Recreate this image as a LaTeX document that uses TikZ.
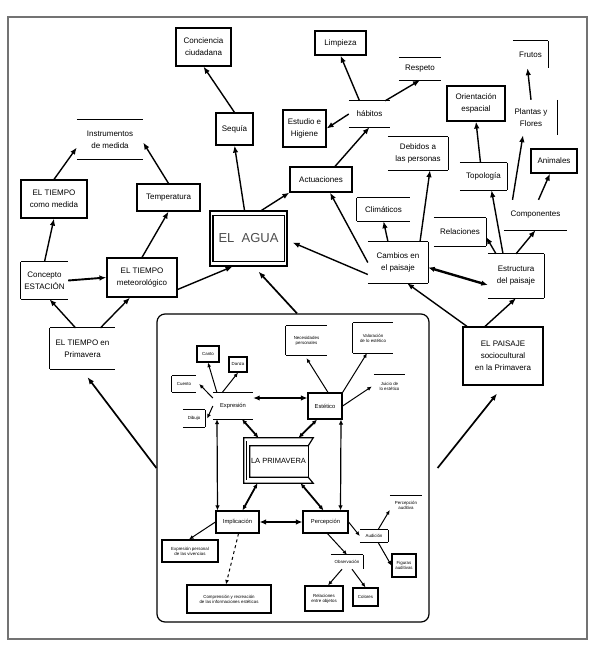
\documentclass[tikz,border=0pt]{standalone}
\usepackage{fontspec}
\setmainfont{Liberation Sans}
\usetikzlibrary{arrows.meta}
\newcommand\sdT[1]{\draw[bord] (#1.north west) -- (#1.north east);}
\newcommand\sdB[1]{\draw[bord] (#1.south west) -- (#1.south east);}
\newcommand\sdL[1]{\draw[bord] (#1.north west) -- (#1.south west);}
\newcommand\sdR[1]{\draw[bord] (#1.north east) -- (#1.south east);}
\begin{document}
\begin{tikzpicture}[x=1pt,y=-1pt,
  bx/.style 2 args={rectangle, inner sep=0pt, minimum width=#1pt, minimum height=#2pt, align=center},
  fb/.style={draw, line width=1.2pt},
  bord/.style={line width=1.2pt},
  lbl/.style={font=\fontsize{8}{12}\selectfont},
  sm/.style={font=\fontsize{5.8}{6.8}\selectfont},
  tn/.style={font=\fontsize{4.4}{5.2}\selectfont},
  arr/.style={line width=1.4pt, -{Latex[length=7pt,width=5.5pt]}},
  thk/.style={line width=2.4pt, {Latex[length=6.5pt,width=5.5pt]}-{Latex[length=6.5pt,width=5.5pt]}},
  sarr/.style={line width=1pt, -{Latex[length=4.5pt,width=4pt]}},
  dbl/.style={line width=1.2pt, {Latex[length=5pt,width=4.5pt]}-{Latex[length=5pt,width=4.5pt]}}
]
\useasboundingbox (0,0) rectangle (597,658);
\draw[black!55, line width=1.2pt] (8,17) rectangle (587,639);

% ---------- outer nodes ----------
\node[bx={55}{38},fb,lbl] (conc) at (203.5,47) {Conciencia\\ciudadana};
\node[bx={37}{32},fb,lbl] (seq) at (234.5,129) {Sequía};
\node[bx={66}{39},lbl] (instr) at (110,139.5) {Instrumentos\\de medida};
\sdT{instr}\sdB{instr}
\node[bx={66}{38},fb,lbl] (tcm) at (54,199) {EL TIEMPO\\como medida};
\node[bx={63}{27},fb,lbl] (temp) at (168.5,197.5) {Temperatura};
\node[bx={77}{55},fb,font=\fontsize{13}{15}\selectfont,text=black!70] (agua) at (248.5,238.5) {EL\ \ AGUA};
\draw[bord] ([xshift=3.5,yshift=-5]agua.north west) rectangle ([xshift=-3.5,yshift=5]agua.south east);
\node[bx={47}{37},lbl] (est) at (44.5,280.5) {Concepto\\ESTACIÓN};
\sdT{est}\sdL{est}\sdB{est}
\node[bx={70}{39},fb,lbl] (met) at (142,277.5) {EL TIEMPO\\meteorológico};
\node[bx={65}{41},lbl] (tprim) at (82.5,348.5) {EL TIEMPO en\\Primavera};
\sdT{tprim}\sdL{tprim}\sdB{tprim}
\node[bx={51}{24},fb,lbl] (limp) at (340.5,43) {Limpieza};
\node[bx={42}{22},lbl] (resp) at (420,69) {Respeto};
\sdT{resp}\sdB{resp}
\node[bx={41}{26},lbl] (hab) at (369.5,114) {hábitos};
\sdT{hab}\sdB{hab}
\node[bx={43}{37},fb,lbl] (estu) at (304.5,128.5) {Estudio e\\Higiene};
\node[bx={60}{33},lbl] (deb) at (418,153.5) {Debidos a\\las personas};
\sdT{deb}\sdR{deb}\sdB{deb}
\node[bx={62}{25},fb,lbl] (act) at (321,179.5) {Actuaciones};
\node[bx={58}{35},fb,lbl] (ori) at (476,103.5) {Orientación\\espacial};
\node[bx={35}{27},lbl] (fru) at (530.5,54.5) {Frutos};
\sdT{fru}\sdR{fru}
\node[bx={52}{35},lbl] (pla) at (531,117.5) {Plantas y\\Flores};
\sdR{pla}
\node[bx={46}{24},fb,lbl] (ani) at (554,161) {Animales};
\node[bx={47}{27},lbl] (topo) at (483.5,176.5) {Topología};
\sdT{topo}\sdR{topo}\sdB{topo}
\node[bx={53}{23},lbl] (cli) at (383.5,209.5) {Climáticos};
\sdT{cli}\sdL{cli}\sdB{cli}
\node[bx={63}{30},lbl] (comp) at (535.5,215) {Componentes};
\sdB{comp}
\node[bx={52}{28},lbl] (rel) at (460,232) {Relaciones};
\sdT{rel}\sdR{rel}\sdB{rel}
\node[bx={60}{41},lbl] (camb) at (398,262.5) {Cambios en\\el paisaje};
\sdT{camb}\sdR{camb}\sdB{camb}
\node[bx={56}{44},lbl] (estr) at (516,276) {Estructura\\del paisaje};
\sdT{estr}\sdR{estr}\sdB{estr}
\node[bx={80}{58},fb,lbl] (pais) at (503,356) {EL PAISAJE\\sociocultural\\en la Primavera};

% ---------- inner frame ----------
\node[draw, line width=1.2pt, rounded corners=8pt, minimum width=272pt, minimum height=308pt, inner sep=0pt] (inner) at (293,468) {};

% ---------- inner nodes ----------
\node[bx={41}{29},tn] (nec) at (306.5,340.5) {Necesidades\\personales};
\sdT{nec}\sdL{nec}\sdB{nec}
\node[bx={40}{30},tn] (val) at (373,338) {Valoración\\de lo estético};
\sdT{val}\sdL{val}\sdB{val}
\node[bx={31}{23},tn] (jui) at (389.5,386.5) {Juicio de\\lo estético};
\sdT{jui}
\node[bx={34}{26},fb,sm] (estt) at (325,406) {Estético};
\node[bx={40}{26},sm] (expr) at (233,406) {Expresión};
\sdT{expr}\sdB{expr}
\node[bx={22}{16},fb,tn] (canto) at (208,354) {Canto};
\node[bx={18}{15},fb,tn] (danza) at (238,364.5) {Danza};
\node[bx={24}{16},tn] (cuento) at (184,384) {Cuento};
\sdT{cuento}\sdL{cuento}\sdB{cuento}
\node[bx={22}{17},tn] (dib) at (194,418.5) {Dibujo};
\sdT{dib}\sdR{dib}\sdB{dib}
\node[bx={69}{45},font=\fontsize{7.5}{9}\selectfont] (prim) at (278.5,460.5) {LA PRIMAVERA};
\draw[bord] (prim.north west) -- (prim.north east) -- ([xshift=-5,yshift=-8]prim.north east)
  -- ([xshift=6,yshift=-8]prim.north west) -- ([xshift=6,yshift=6]prim.south west)
  -- ([xshift=-5,yshift=6]prim.south east) -- (prim.south east) -- (prim.south west) -- cycle;
\draw[bord] ([xshift=-5,yshift=-8]prim.north east) -- ([xshift=-5,yshift=6]prim.south east);
\draw[line width=0.8pt] ([xshift=3,yshift=-3]prim.north west) -- ([xshift=3,yshift=3]prim.south west);
\node[bx={43}{22},fb,sm] (impl) at (237.5,522) {Implicación};
\node[bx={45}{22},fb,sm] (perc) at (325.5,522) {Percepción};
\node[bx={56}{22},fb,tn] (exper) at (190,551) {Expresión personal\\de las vivencias};
\node[bx={84}{28},fb,tn] (compr) at (229,599) {Comprensión y recreación\\de las informaciones estéticas};
\node[bx={28}{12},tn] (aud) at (374,536) {Audición};
\sdT{aud}\sdR{aud}\sdB{aud}
\node[bx={32}{18},tn] (paud) at (406,505) {Percepción\\auditiva};
\sdT{paud}
\node[bx={24}{23},fb,tn] (fig) at (404,565.5) {Figuras\\auditivas};
\node[bx={32}{14},tn] (obs) at (347,562) {Observación};
\sdT{obs}\sdR{obs}
\node[bx={38}{25},fb,tn] (relo) at (324,598.5) {Relaciones\\entre objetos};
\node[bx={25}{18},fb,tn] (col) at (365.5,597) {Colores};

% ---------- outer connectors ----------
\draw[arr] (seq.north) -- (conc.south);
\draw[arr] ([xshift=-4]agua.north) -- (seq.south);
\draw[arr] ([xshift=13]agua.north) -- (act.south west);
\draw[arr] ([xshift=14]act.north) -- (hab.south);
\draw[arr] ([xshift=-10]hab.north) -- (limp.south);
\draw[arr] ([xshift=-5]hab.north east) -- (resp.south);
\draw[arr] (hab.west) -- (estu.east);
\draw[arr] (tcm.north) -- ([yshift=-8]instr.west);
\draw[arr] (temp.north) -- ([yshift=-3]instr.east);
\draw[arr] (met.north) -- (temp.south);
\draw[arr] (est.north) -- (tcm.south);
\draw[arr, line width=1.9pt] (est.east) -- (met.west);
\draw[arr] ([yshift=-12]met.east) -- ([xshift=-16]agua.south);
\draw[arr] ([xshift=-7]tprim.north) -- ([xshift=5]est.south);
\draw[arr] ([xshift=18]tprim.north) -- ([xshift=-12]met.south);
\draw[arr, line width=1.7pt] (inner.west) -- ([xshift=5,yshift=-8]tprim.south);
\draw[arr, line width=1.7pt] ([xshift=8]inner.east) -- ([xshift=-6,yshift=-8]pais.south);
\draw[arr, line width=1.7pt] ([xshift=4]inner.north) -- ([xshift=10,yshift=-5]agua.south);
\draw[arr] ([yshift=-12]camb.west) -- ([xshift=5,yshift=-4]agua.east);
\draw[arr] (camb.west) -- ([xshift=9]act.south);
\draw[arr] ([xshift=-10]camb.north) -- (cli.south);
\draw[arr] ([xshift=22]camb.north) -- ([xshift=12]deb.south);
\draw[thk] ([yshift=-5]camb.east) -- ([yshift=-9]estr.west);
\draw[arr] ([xshift=-36]pais.north) -- ([xshift=9]camb.south);
\draw[arr] ([xshift=-18]pais.north) -- (estr.south);
\draw[arr] ([xshift=-20]estr.north) -- ([yshift=-5]rel.east);
\draw[arr] ([xshift=-13]estr.north) -- ([xshift=8]topo.south);
\draw[arr] (estr.north) -- (comp.south);
\draw[arr] ([xshift=-23]comp.north) -- ([xshift=-8]pla.south);
\draw[arr] ([xshift=3]comp.north) -- ([xshift=-4]ani.south);
\draw[arr] (pla.north) -- ([xshift=-3]fru.south);
\draw[arr] ([xshift=-3]topo.north) -- (ori.south);

% ---------- inner connectors ----------
\draw[thk] ([yshift=8]expr.east) -- ([yshift=8]estt.west);
\draw[sarr] ([xshift=-16]expr.north) -- (canto.south);
\draw[sarr] ([xshift=-11]expr.north) -- (danza.south);
\draw[sarr] ([yshift=8]expr.west) -- ([xshift=3]cuento.east);
\draw[sarr] (expr.west) -- ([xshift=2]dib.east);
\draw[sarr] ([xshift=3]estt.north) -- ([yshift=-3]nec.south);
\draw[sarr] (estt.north east) -- ([xshift=-6]val.south);
\draw[sarr] (estt.east) -- ([xshift=-2]jui.west);
\draw[dbl, line width=1.8pt] ([xshift=9]expr.south) -- ([xshift=-20]prim.north);
\draw[dbl, line width=1.8pt] ([xshift=-8]estt.south) -- ([xshift=20]prim.north);
\draw[dbl, line width=1.8pt] ([xshift=-21]prim.south) -- ([xshift=5]impl.north);
\draw[dbl, line width=1.8pt] ([xshift=22]prim.south) -- ([xshift=-2]perc.north);
\draw[dbl] ([xshift=-16]expr.south) -- ([xshift=-20]impl.north);
\draw[dbl] ([xshift=16]estt.south) -- ([xshift=15]perc.north);
\draw[thk] (impl.east) -- (perc.west);
\draw[sarr] (impl.west) -- ([xshift=-1]exper.north);
\draw[sarr, dashed] ([xshift=1]impl.south) -- ([xshift=-3]compr.north);
\draw[sarr] (perc.east) -- (aud.west);
\draw[sarr] ([xshift=4]aud.north) -- ([yshift=-5]paud.west);
\draw[sarr] ([xshift=4]aud.south) -- (fig.west);
\draw[sarr] ([xshift=2]perc.south) -- (obs.north);
\draw[sarr] ([xshift=-5]obs.south) -- ([xshift=4]relo.north);
\draw[sarr] ([xshift=5]obs.south) -- (col.north);
\end{tikzpicture}
\end{document}
